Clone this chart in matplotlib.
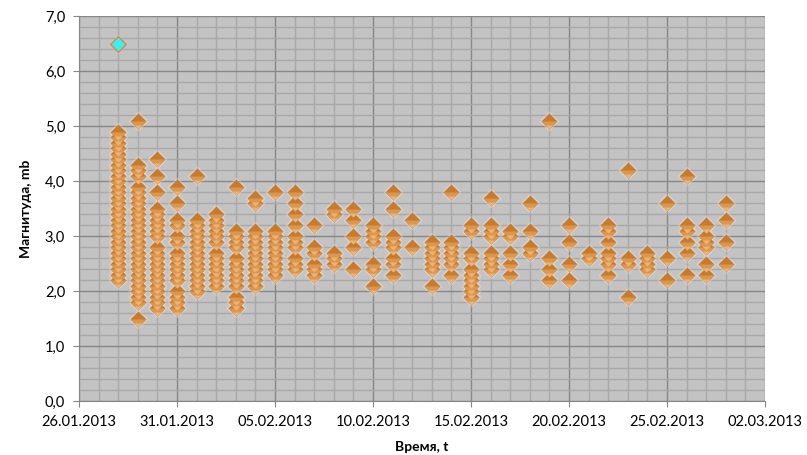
import numpy as np
import matplotlib
matplotlib.use('Agg')
import matplotlib.pyplot as plt
import matplotlib.dates as mdates
from matplotlib.path import Path
from matplotlib.ticker import FixedLocator, MultipleLocator, FuncFormatter
from datetime import datetime

# magnitudes of events, grouped by day
days = ['28.01.2013', '29.01.2013', '30.01.2013', '31.01.2013', '01.02.2013',
        '02.02.2013', '03.02.2013', '04.02.2013', '05.02.2013', '06.02.2013',
        '07.02.2013', '08.02.2013', '09.02.2013', '10.02.2013', '11.02.2013',
        '12.02.2013', '13.02.2013', '14.02.2013', '15.02.2013', '16.02.2013',
        '17.02.2013', '18.02.2013', '19.02.2013', '20.02.2013', '21.02.2013',
        '22.02.2013', '23.02.2013', '24.02.2013', '25.02.2013', '26.02.2013',
        '27.02.2013', '28.02.2013']
mags = [
    [4.9, 4.8, 4.7, 4.6, 4.5, 4.4, 4.3, 4.2, 4.1, 4.0, 3.9, 3.8, 3.7, 3.6, 3.5,
     3.4, 3.3, 3.2, 3.1, 3.0, 2.9, 2.8, 2.7, 2.6, 2.5, 2.4, 2.3, 2.2],
    [5.1, 4.3, 4.2, 4.1, 3.9, 3.8, 3.7, 3.6, 3.5, 3.4, 3.3, 3.2, 3.1, 3.0, 2.9,
     2.8, 2.7, 2.6, 2.5, 2.4, 2.3, 2.2, 2.1, 2.0, 1.9, 1.8, 1.5],
    [4.4, 4.1, 3.8, 3.5, 3.4, 3.3, 3.2, 3.1, 3.0, 2.8, 2.7, 2.6, 2.5, 2.4, 2.3,
     2.2, 2.1, 2.0, 1.9, 1.8, 1.7],
    [3.9, 3.6, 3.3, 3.2, 3.0, 2.9, 2.7, 2.6, 2.5, 2.4, 2.3, 2.2, 2.0, 1.9, 1.8, 1.7],
    [4.1, 3.3, 3.2, 3.1, 3.0, 2.9, 2.8, 2.7, 2.6, 2.5, 2.4, 2.3, 2.2, 2.1, 2.0],
    [3.4, 3.3, 3.2, 3.1, 3.0, 2.9, 2.7, 2.6, 2.5, 2.4, 2.3, 2.2, 2.1],
    [3.9, 3.1, 3.0, 2.9, 2.8, 2.6, 2.5, 2.4, 2.3, 2.2, 2.1, 1.9, 1.8, 1.7],
    [3.7, 3.6, 3.1, 3.0, 2.9, 2.8, 2.7, 2.6, 2.5, 2.4, 2.3, 2.2, 2.1],
    [3.8, 3.1, 3.0, 2.9, 2.8, 2.7, 2.6, 2.5, 2.4, 2.3],
    [3.8, 3.6, 3.4, 3.2, 3.0, 2.9, 2.8, 2.6, 2.5, 2.4],
    [3.2, 2.8, 2.7, 2.5, 2.4, 2.3],
    [3.5, 3.4, 2.7, 2.6, 2.5],
    [3.5, 3.3, 3.0, 2.8, 2.4],
    [3.2, 3.1, 3.0, 2.9, 2.5, 2.4, 2.1],
    [3.8, 3.5, 3.0, 2.9, 2.8, 2.6, 2.5, 2.3],
    [3.3, 2.8],
    [2.9, 2.8, 2.7, 2.6, 2.5, 2.4, 2.1],
    [3.8, 2.9, 2.8, 2.7, 2.6, 2.5, 2.3],
    [3.2, 3.1, 2.7, 2.6, 2.4, 2.3, 2.2, 2.1, 2.0, 1.9],
    [3.7, 3.2, 3.1, 3.0, 2.7, 2.6, 2.5, 2.4],
    [3.1, 3.0, 2.7, 2.5, 2.3],
    [3.6, 3.1, 2.8, 2.7],
    [5.1, 2.6, 2.4, 2.2],
    [3.2, 2.9, 2.5, 2.2],
    [2.7, 2.6],
    [3.2, 3.1, 2.9, 2.7, 2.6, 2.5, 2.3],
    [4.2, 2.6, 2.5, 1.9],
    [2.7, 2.6, 2.5, 2.4],
    [3.6, 2.6, 2.2],
    [4.1, 3.2, 3.1, 2.9, 2.7, 2.3],
    [3.2, 3.0, 2.9, 2.8, 2.5, 2.3],
    [3.6, 3.3, 2.9, 2.5],
]
# strongest event
peak_day = '28.01.2013'
peak_mag = 6.5

x_start = '26.01.2013'
x_end = '02.03.2013'

def to_num(s):
    return mdates.date2num(datetime.strptime(s, '%d.%m.%Y'))

fig = plt.figure(figsize=(8.07, 4.55), dpi=100)
ax = fig.add_axes([79/807, 1 - 401/455, (765 - 79)/807, (401 - 16)/455])
ax.set_facecolor('#C3C3C3')

x0, x1 = to_num(x_start), to_num(x_end)
ax.set_xlim(x0, x1)
ax.set_ylim(0, 7)

ax.xaxis.set_major_locator(FixedLocator(np.arange(x0, x1 + 0.5, 5)))
ax.xaxis.set_minor_locator(MultipleLocator(1))
ax.xaxis.set_major_formatter(FuncFormatter(lambda v, p: mdates.num2date(v).strftime('%d.%m.%Y')))
ax.yaxis.set_major_locator(MultipleLocator(1))
ax.yaxis.set_minor_locator(MultipleLocator(0.2))
ax.yaxis.set_major_formatter(FuncFormatter(lambda v, p: ('%.1f' % v).replace('.', ',')))

ax.set_axisbelow(True)
ax.grid(which='minor', color='#A8A8A8', lw=1.0)
ax.grid(which='major', color='#878787', lw=1.0)

for side in ('top', 'right'):
    ax.spines[side].set_visible(False)
for side in ('left', 'bottom'):
    ax.spines[side].set_color('#868686')
ax.tick_params(which='major', length=4, color='#868686', labelsize=10.5, pad=6)
ax.tick_params(which='minor', length=0)
for lab in ax.get_xticklabels() + ax.get_yticklabels():
    lab.set_family(['Lato', 'DejaVu Sans'])

ax.set_xlabel('Время, t', fontsize=10, fontweight='bold', family=['Lato', 'DejaVu Sans'], labelpad=9)
ax.set_ylabel('Магнитуда, mb', fontsize=10, fontweight='bold', family=['Lato', 'DejaVu Sans'], labelpad=9)

# marker shapes: whole diamond, lower half, lower tip
diamond = Path([(0, 1), (1, 0), (0, -1), (-1, 0), (0, 1)], closed=True)
lower_half = Path([(-1, 0), (1, 0), (0, -1), (-1, 0)], closed=True)
lower_tip = Path([(-0.5, -0.5), (0.5, -0.5), (0, -1), (-0.5, -0.5)], closed=True)

ms = 11.5
xs, ys = [], []
for d, vals in zip(days, mags):
    for v in sorted(vals, reverse=True):
        xs.append(to_num(d))
        ys.append(v)

# soft white glow behind the points
ax.plot(xs, ys, ls='none', marker=diamond, ms=ms + 3, mew=0, color='white', alpha=0.25, zorder=2)

z = 3
for x, y in zip(xs, ys):
    ax.plot([x], [y], ls='none', marker=diamond, ms=ms, mew=0, color='#C97A2A', zorder=z)
    ax.plot([x], [y], ls='none', marker=lower_half, ms=ms, mew=0, color='#DC974E', zorder=z + 0.1)
    ax.plot([x], [y], ls='none', marker=lower_tip, ms=ms, mew=0, color='#ECB277', zorder=z + 0.2)
    z += 0.001

px = to_num(peak_day)
ax.plot([px], [peak_mag], ls='none', marker=diamond, ms=ms + 3, mew=0, color='white', alpha=0.25, zorder=2)
ax.plot([px], [peak_mag], ls='none', marker=diamond, ms=ms, mew=1.2, mec='#C8945A',
        color='#3FEDED', zorder=z + 1)

fig.savefig('out.png', dpi=100)
